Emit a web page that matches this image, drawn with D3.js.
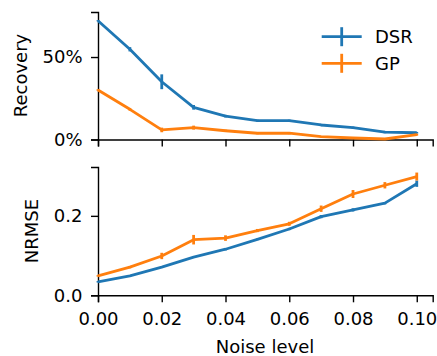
<!DOCTYPE html>
<html>
<head>
<meta charset="utf-8">
<script src="https://cdn.jsdelivr.net/npm/d3@7"></script>
<style>
  body { margin: 0; background: #fff; }
  svg text { font-family: "DejaVu Sans", sans-serif; fill: #000; }
</style>
</head>
<body>
<div id="chart"></div>
<script>
const WIDTH = 437;
const HEIGHT = 356;
const FONT = 18;
const BLUE = "#1f77b4";
const ORANGE = "#ff7f0e";

// noise levels on the x axis
const noise = [0, 0.01, 0.02, 0.03, 0.04, 0.05, 0.06, 0.07, 0.08, 0.09, 0.10];
const xTicks = [0, 0.02, 0.04, 0.06, 0.08, 0.10];

// recovery (top panel)
const dsrRecovery = [0.72, 0.547, 0.35, 0.195, 0.142, 0.114, 0.114, 0.088, 0.072, 0.045, 0.041];
const dsrRecoveryErr = [0.004, 0.013, 0.045, 0.014, 0.008, 0.006, 0.006, 0.007, 0.006, 0.007, 0.005];
const gpRecovery = [0.30, 0.183, 0.058, 0.072, 0.053, 0.038, 0.038, 0.017, 0.009, 0.003, 0.029];
const gpRecoveryErr = [0.005, 0.008, 0.014, 0.012, 0.006, 0.006, 0.006, 0.004, 0.003, 0.002, 0.006];
const recoveryTicks = [0, 0.5];

// NRMSE (bottom panel)
const dsrNrmse = [0.034, 0.049, 0.071, 0.096, 0.116, 0.141, 0.167, 0.198, 0.215, 0.232, 0.281];
const dsrNrmseErr = [0.002, 0.002, 0.002, 0.002, 0.003, 0.002, 0.003, 0.004, 0.004, 0.003, 0.008];
const gpNrmse = [0.049, 0.071, 0.099, 0.140, 0.144, 0.163, 0.180, 0.218, 0.255, 0.277, 0.299];
const gpNrmseErr = [0.002, 0.003, 0.008, 0.012, 0.007, 0.004, 0.005, 0.008, 0.010, 0.008, 0.010];
const nrmseTicks = [0, 0.2];

const seriesNames = ["DSR", "GP"];

let svg = d3.select("#chart")
    .append("svg")
    .attr("width", WIDTH)
    .attr("height", HEIGHT);

let x = d3.scaleLinear().domain([0, 0.105]).range([98, 432.7]);
let yTop = d3.scaleLinear().domain([0, 0.773]).range([139.5, 12]);
let yBot = d3.scaleLinear().domain([0, 0.323]).range([295.3, 167]);

function drawPanel(y, yTickVals, yFmt, showXLabels, series) {
    let g = svg.append("g");

    let xAxis = d3.axisBottom(x).tickValues(xTicks).tickSizeOuter(0).tickSize(7).tickPadding(10)
        .tickFormat(showXLabels ? d3.format(".2f") : "");
    g.append("g")
        .attr("transform", `translate(0,${y.range()[0]})`)
        .call(xAxis);

    let yAxis = d3.axisLeft(y).tickValues(yTickVals).tickSizeOuter(0).tickSize(7).tickPadding(8.5)
        .tickFormat(yFmt);
    g.append("g")
        .attr("transform", `translate(${x.range()[0]},0)`)
        .call(yAxis);

    g.selectAll(".domain").attr("stroke", "#000").attr("stroke-width", 1.4);
    g.selectAll(".tick line").attr("stroke", "#000").attr("stroke-width", 1.4);
    g.selectAll(".tick text").attr("font-size", FONT).attr("font-family", "DejaVu Sans");

    let line = d3.line().x((d, i) => x(noise[i])).y(d => y(d));

    for (let s of series) {
        g.append("path")
            .datum(s.values)
            .attr("d", line)
            .attr("fill", "none")
            .attr("stroke", s.color)
            .attr("stroke-width", 2.8)
            .attr("stroke-linejoin", "round");
        g.selectAll(null)
            .data(s.values)
            .enter()
            .append("line")
            .attr("x1", (d, i) => x(noise[i]))
            .attr("x2", (d, i) => x(noise[i]))
            .attr("y1", (d, i) => y(d - s.err[i]))
            .attr("y2", (d, i) => y(d + s.err[i]))
            .attr("stroke", s.color)
            .attr("stroke-width", 2.8);
    }
    return g;
}

drawPanel(yTop, recoveryTicks, d3.format(".0%"), false, [
    {values: dsrRecovery, err: dsrRecoveryErr, color: BLUE},
    {values: gpRecovery, err: gpRecoveryErr, color: ORANGE}
]);

drawPanel(yBot, nrmseTicks, d3.format(".1f"), true, [
    {values: dsrNrmse, err: dsrNrmseErr, color: BLUE},
    {values: gpNrmse, err: gpNrmseErr, color: ORANGE}
]);

// axis labels
svg.append("text")
    .attr("transform", "translate(26.5,75.5) rotate(-90)")
    .attr("text-anchor", "middle")
    .attr("font-size", FONT)
    .text("Recovery");

svg.append("text")
    .attr("transform", "translate(38,231) rotate(-90)")
    .attr("text-anchor", "middle")
    .attr("font-size", FONT)
    .text("NRMSE");

svg.append("text")
    .attr("x", 265)
    .attr("y", 353)
    .attr("text-anchor", "middle")
    .attr("font-size", FONT)
    .text("Noise level");

// legend
let legend = svg.append("g");
let legendColors = [BLUE, ORANGE];
seriesNames.forEach((name, i) => {
    let cy = 36.7 + i * 26.6;
    legend.append("line")
        .attr("x1", 321.7).attr("x2", 361.7)
        .attr("y1", cy).attr("y2", cy)
        .attr("stroke", legendColors[i]).attr("stroke-width", 2.8);
    legend.append("line")
        .attr("x1", 341.7).attr("x2", 341.7)
        .attr("y1", cy - 9.5).attr("y2", cy + 9.5)
        .attr("stroke", legendColors[i]).attr("stroke-width", 2.8);
    legend.append("text")
        .attr("x", 375)
        .attr("y", cy + 6.5)
        .attr("font-size", FONT)
        .text(name);
});
</script>
</body>
</html>
